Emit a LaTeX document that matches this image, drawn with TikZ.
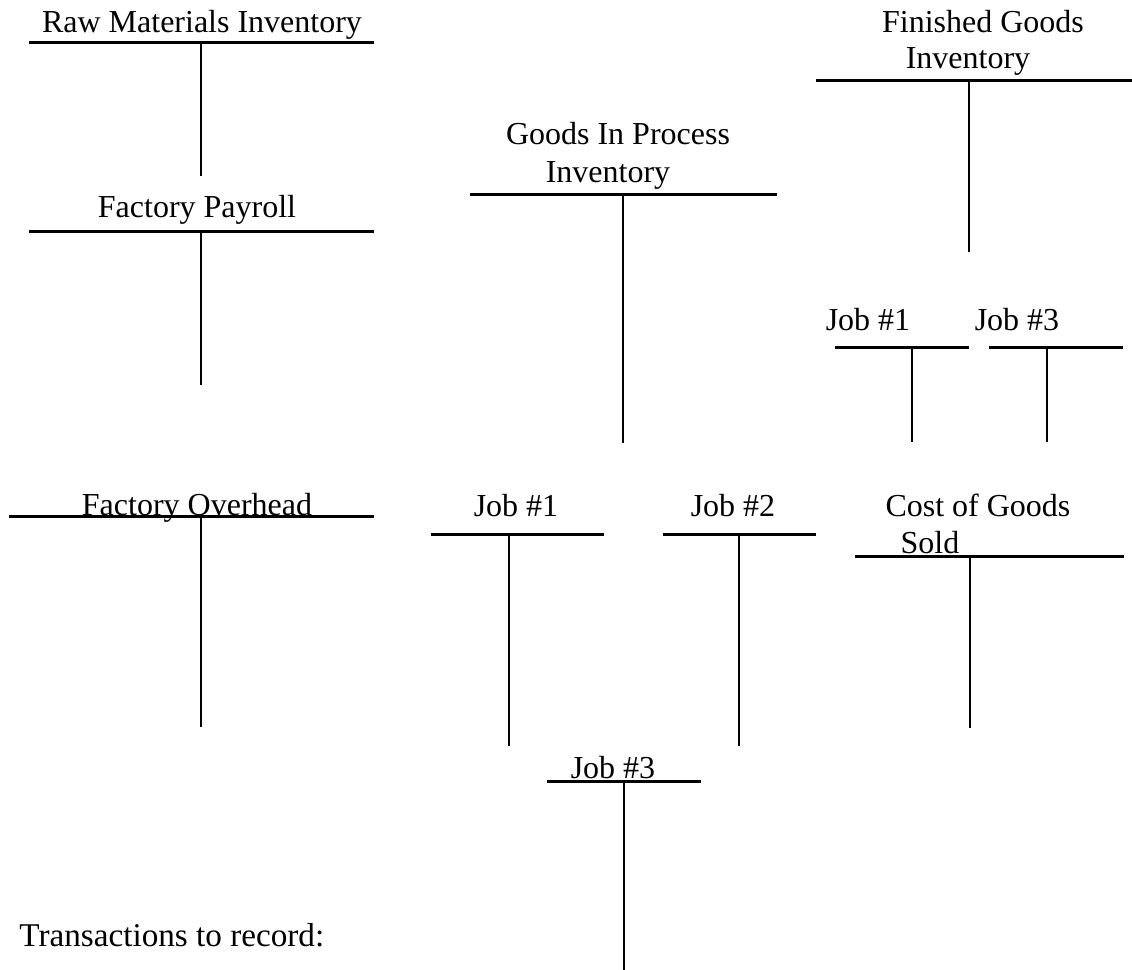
\documentclass[tikz,border=0pt]{standalone}
\usepackage{fontspec}
\setmainfont{Liberation Serif}
\begin{document}
\begin{tikzpicture}[x = 0.5pt, y = -0.5pt,
	title/.style = {anchor = base, inner sep = 0pt, font = \fontsize{16}{19}\selectfont},
	bar/.style = {line width = 1.5pt},
	stem/.style = {line width = 1.2pt}]

% Page

\useasboundingbox (0, 0) rectangle (1132, 970);

% Raw materials inventory

\node [title] (rawmat) at (202, 32) {Raw Materials Inventory};
\draw [bar] (29, 42) -- (374, 42);
\draw [stem] (201, 42) -- (201, 176);

% Factory payroll

\node [title] (payroll) at (197, 217) {Factory Payroll};
\draw [bar] (29, 231) -- (374, 231);
\draw [stem] (201, 231) -- (201, 385);

% Factory overhead

\node [title] (overhead) at (197, 515) {Factory Overhead};
\draw [bar] (9, 516) -- (374, 516);
\draw [stem] (201, 516) -- (201, 727);

% Goods in process inventory

\node [title] (gip) at (618, 144) {Goods In Process};
\node [title] (gipinv) at (608, 182) {Inventory};
\draw [bar] (470, 194) -- (777, 194);
\draw [stem] (623, 194) -- (623, 443);

% Job cost sheets

\node [title] (jobone) at (516, 516) {Job \#1};
\draw [bar] (431, 534) -- (604, 534);
\draw [stem] (509, 534) -- (509, 746);

\node [title] (jobtwo) at (733, 516) {Job \#2};
\draw [bar] (663, 534) -- (816, 534);
\draw [stem] (739, 534) -- (739, 746);

\node [title] (jobthree) at (613, 778) {Job \#3};
\draw [bar] (547, 781) -- (701, 781);
\draw [stem] (624, 781) -- (624, 970);

% Finished goods inventory

\node [title] (fg) at (983, 32) {Finished Goods};
\node [title] (fginv) at (968, 68) {Inventory};
\draw [bar] (816, 80) -- (1132, 80);
\draw [stem] (969, 80) -- (969, 252);

\node [title] (fgone) at (868, 330) {Job \#1};
\draw [bar] (835, 347) -- (969, 347);
\draw [stem] (912, 347) -- (912, 442);

\node [title] (fgthree) at (1017, 330) {Job \#3};
\draw [bar] (989, 347) -- (1123, 347);
\draw [stem] (1047, 347) -- (1047, 442);

% Cost of goods sold

\node [title] (cogs) at (978, 516) {Cost of Goods};
\node [title] (cogsold) at (930, 553) {Sold};
\draw [bar] (855, 556) -- (1124, 556);
\draw [stem] (970, 556) -- (970, 728);

% Label

\node [title, anchor = base west, font = \fontsize{16.6}{20}\selectfont] (trans) at (19, 946) {Transactions to record:};

\end{tikzpicture}
\end{document}
